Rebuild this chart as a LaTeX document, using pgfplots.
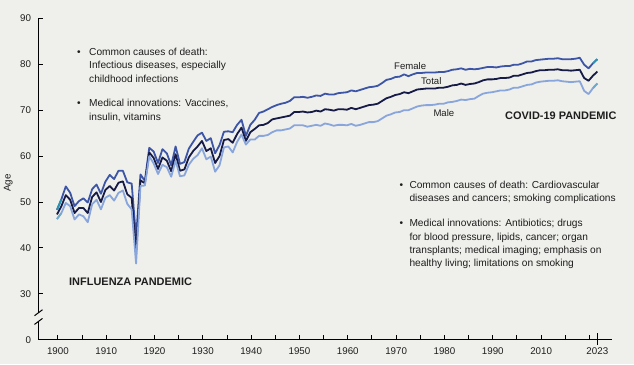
\documentclass[border=0pt]{standalone}
\usepackage{fontspec}
\setmainfont{Liberation Sans}
\usepackage{pgfplots}
\usepackage{pgfplotstable}
\pgfplotsset{compat=1.18}
\definecolor{bg}{RGB}{239,239,235}
\definecolor{fem}{RGB}{61,85,166}
\definecolor{tot}{RGB}{22,26,70}
\definecolor{mal}{RGB}{137,166,220}
\definecolor{femteal}{RGB}{42,147,176}
\definecolor{malteal}{RGB}{106,172,204}
\definecolor{txt}{RGB}{30,30,30}

\pgfplotstableread{
year female total male
1900 48.3 47.3 46.3
1901 50.6 49.1 47.6
1902 53.4 51.5 49.8
1903 52.0 50.5 49.1
1904 49.1 47.6 46.2
1905 50.2 48.7 47.3
1906 50.8 48.7 46.9
1907 49.9 47.6 45.6
1908 52.8 51.1 49.5
1909 53.8 52.1 50.5
1910 51.8 50.0 48.4
1911 54.4 52.6 50.9
1912 55.9 53.5 51.5
1913 55.0 52.5 50.3
1914 56.8 54.2 52.0
1915 56.8 54.5 52.5
1916 54.3 51.7 49.6
1917 54.0 50.9 48.4
1918 42.2 39.1 36.6
1919 56.0 54.7 53.5
1920 54.6 54.1 53.6
1921 61.8 60.8 60.0
1922 61.0 59.6 58.4
1923 58.5 57.2 56.1
1924 61.5 59.7 58.1
1925 60.6 59.0 57.6
1926 58.0 56.7 55.5
1927 62.1 60.4 59.0
1928 58.3 56.8 55.6
1929 58.7 57.1 55.8
1930 61.6 59.7 58.1
1931 63.1 61.1 59.4
1932 64.5 62.1 60.2
1933 65.1 63.3 61.7
1934 63.3 61.1 59.3
1935 63.9 61.7 59.9
1936 60.6 58.5 56.6
1937 62.4 60.0 58.0
1938 65.3 63.5 61.9
1939 65.4 63.7 62.1
1940 65.2 62.9 60.8
1941 66.8 64.8 63.1
1942 67.9 66.2 64.7
1943 64.4 63.3 62.5
1944 66.8 65.2 63.6
1945 67.9 65.9 63.6
1946 69.4 66.7 64.4
1947 69.7 66.8 64.4
1948 70.2 67.2 64.6
1949 70.7 68.0 65.2
1950 71.1 68.2 65.6
1951 71.4 68.4 65.6
1952 71.6 68.6 65.8
1953 72.0 68.8 66.0
1954 72.8 69.6 66.7
1955 72.8 69.6 66.7
1956 72.9 69.7 66.7
1957 72.7 69.5 66.4
1958 72.9 69.6 66.6
1959 73.2 69.9 66.8
1960 73.1 69.7 66.6
1961 73.6 70.2 67.1
1962 73.4 70.1 66.9
1963 73.4 69.9 66.6
1964 73.7 70.2 66.8
1965 73.8 70.2 66.8
1966 73.9 70.1 66.7
1967 74.3 70.5 67.0
1968 74.1 70.2 66.6
1969 74.4 70.5 66.8
1970 74.7 70.8 67.1
1971 75.0 71.1 67.4
1972 75.1 71.2 67.4
1973 75.3 71.4 67.6
1974 75.9 72.0 68.2
1975 76.6 72.6 68.8
1976 76.8 72.9 69.1
1977 77.2 73.3 69.5
1978 77.3 73.5 69.6
1979 77.8 73.9 70.0
1980 77.4 73.7 70.0
1981 77.8 74.1 70.4
1982 78.1 74.5 70.8
1983 78.1 74.6 71.0
1984 78.2 74.7 71.1
1985 78.2 74.7 71.1
1986 78.2 74.7 71.2
1987 78.3 74.9 71.4
1988 78.3 74.9 71.4
1989 78.5 75.1 71.7
1990 78.8 75.4 71.8
1991 78.9 75.5 72.0
1992 79.1 75.8 72.3
1993 78.8 75.5 72.2
1994 79.0 75.7 72.4
1995 78.9 75.8 72.5
1996 79.0 76.1 73.1
1997 79.2 76.5 73.6
1998 79.4 76.7 73.8
1999 79.4 76.7 73.9
2000 79.3 76.8 74.1
2001 79.5 77.0 74.3
2002 79.6 77.0 74.3
2003 79.6 77.1 74.5
2004 79.9 77.5 74.9
2005 79.9 77.5 74.9
2006 80.2 77.8 75.2
2007 80.6 78.1 75.5
2008 80.6 78.2 75.6
2009 80.9 78.5 76.0
2010 81.0 78.7 76.2
2011 81.1 78.7 76.3
2012 81.2 78.8 76.4
2013 81.2 78.8 76.4
2014 81.3 78.9 76.5
2015 81.1 78.7 76.3
2016 81.1 78.7 76.2
2017 81.1 78.6 76.1
2018 81.2 78.7 76.2
2019 81.4 78.8 76.3
2020 79.9 77.0 74.2
2021 79.1 76.4 73.5
2022 80.2 77.5 74.8
2023 81.1 78.4 75.8
}\lifedata

\begin{document}
\begin{tikzpicture}[x=1bp,y=1bp]
\path[use as bounding box, fill=bg] (0,0) rectangle (634,364);
\begin{axis}[
  at={(38.5bp,24.2bp)}, anchor=south west, scale only axis,
  width=573.2bp, height=321.5bp,
  xmin=1895.79, xmax=2026.27, ymin=20, ymax=90,
  axis x line*=bottom, axis y line*=left,
  y axis line style={draw=none},
  x axis line style={line width=1.1bp, -, black},
  ytick={20,30,40,50,60,70,80,90},
  yticklabels={0,30,40,50,60,70,80,90},
  xtick={1900.2,1905.7,1911.2,1916.7,1922.2,1927.7,1933.2,1938.7,1944.2,1949.7,1955.2,1960.7,1966.2,1971.7,1977.2,1982.7,1988.2,1993.7,1999.2,2004.7,2010.2,2015.7,2021.2,2023},
  xticklabels={1900,,1910,,1920,,1930,,1940,,1950,,1960,,1970,,1980,,1990,,2010,,,2023},
  tick align=inside, major tick length=5bp,
  tick style={line width=1bp, black},
  /pgf/number format/assume math mode=true,
  ticklabel style={font=\fontsize{9.8}{11}\selectfont, text=txt},
  yticklabel style={xshift=-4bp},
  xticklabel style={yshift=-4.5bp},
  clip=false,
]
\addplot[fem, line width=1.8bp, line join=round] table[x=year,y=female] {\lifedata};
\addplot[tot, line width=1.8bp, line join=round] table[x=year,y=total] {\lifedata};
\addplot[mal, line width=1.8bp, line join=round] table[x=year,y=male] {\lifedata};
\addplot[femteal, line width=1.8bp] coordinates {(1900,48.3) (1901,50.6)};
\addplot[malteal, line width=1.8bp] coordinates {(1900,46.3) (1901,47.6)};
\addplot[femteal, line width=1.8bp] coordinates {(2022,80.2) (2023,81.1)};
\addplot[malteal, line width=1.8bp] coordinates {(2022,74.8) (2023,75.8)};
% longer 2023 tick
\draw[line width=1bp, black] ([yshift=-5bp]axis cs:2023,20) -- ([yshift=7bp]axis cs:2023,20);
% y axis with break
\draw[line width=1.1bp, black] (axis cs:1895.79,90) -- (axis cs:1895.79,25.9);
\draw[line width=1.1bp, black] (axis cs:1895.79,24.0) -- (axis cs:1895.79,20);
\draw[line width=1bp, black] ([xshift=-4bp,yshift=-3bp]axis cs:1895.79,25.9) -- ([xshift=4bp,yshift=3bp]axis cs:1895.79,25.9);
\draw[line width=1bp, black] ([xshift=-4bp,yshift=-3bp]axis cs:1895.79,24.0) -- ([xshift=4bp,yshift=3bp]axis cs:1895.79,24.0);
\end{axis}
% axis title
\node[rotate=90, font=\fontsize{9.8}{11}\selectfont, text=txt] at (8.3,181) {Age};
% top-left annotation
\begin{scope}[font=\fontsize{10.2}{13}\selectfont, text=txt]
\node[anchor=base west, inner sep=0] at (77,308.2) {•};
\node[anchor=base west, inner sep=0] at (89,308.2) {Common causes of death:};
\node[anchor=base west, inner sep=0] at (89,295.2) {Infectious diseases, especially};
\node[anchor=base west, inner sep=0] at (89,281.8) {childhood infections};
\node[anchor=base west, inner sep=0] at (77,257.2) {•};
\node[anchor=base west, inner sep=0] at (89,257.2) {Medical innovations: Vaccines,};
\node[anchor=base west, inner sep=0] at (89,243.8) {insulin, vitamins};
% bottom-right annotation
\node[anchor=base west, inner sep=0] at (399.5,175.5) {•};
\node[anchor=base west, inner sep=0] at (409.3,175.5) {Common causes of death: Cardiovascular};
\node[anchor=base west, inner sep=0] at (409.3,162.2) {diseases and cancers; smoking complications};
\node[anchor=base west, inner sep=0] at (399.5,137.2) {•};
\node[anchor=base west, inner sep=0] at (409.3,137.2) {Medical innovations: Antibiotics; drugs};
\node[anchor=base west, inner sep=0] at (409.3,123.8) {for blood pressure, lipids, cancer; organ};
\node[anchor=base west, inner sep=0] at (409.3,110.5) {transplants; medical imaging; emphasis on};
\node[anchor=base west, inner sep=0] at (409.3,97.2) {healthy living; limitations on smoking};
\end{scope}
% event labels
\node[anchor=base west, inner sep=0, font=\fontsize{11}{13}\selectfont\bfseries, text=txt] at (69,78.4) {INFLUENZA PANDEMIC};
\node[anchor=base west, inner sep=0, font=\fontsize{11}{13}\selectfont\bfseries, text=txt] at (505,244.4) {COVID-19 PANDEMIC};
% series labels
\node[anchor=base west, inner sep=0, font=\fontsize{9.6}{11}\selectfont, text=txt] at (394,294.8) {Female};
\node[anchor=base west, inner sep=0, font=\fontsize{9.6}{11}\selectfont, text=txt] at (421,279.5) {Total};
\node[anchor=base west, inner sep=0, font=\fontsize{9.6}{11}\selectfont, text=txt] at (433.3,247.2) {Male};
\end{tikzpicture}
\end{document}
